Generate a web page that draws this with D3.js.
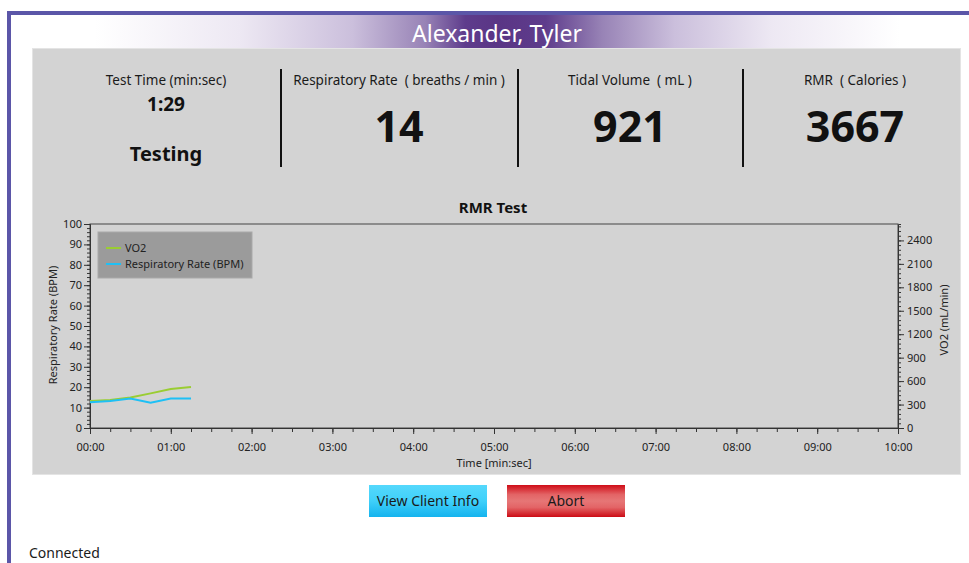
<!DOCTYPE html>
<html><head><meta charset="utf-8">
<script src="https://cdn.jsdelivr.net/npm/d3@7"></script>
<style>
html,body{margin:0;padding:0;background:#fff;overflow:hidden;}
svg{display:block;font-family:"Noto Sans","Open Sans",sans-serif;}
</style></head>
<body>
<svg id="chart" width="969" height="563"></svg>
<script>
// ---- data ----
const clientName = "Alexander, Tyler";
const statLabels = ["Test Time (min:sec)", "Respiratory Rate  ( breaths / min )", "Tidal Volume  ( mL )", "RMR  ( Calories )"];
const statValues = ["1:29", "14", "921", "3667"];
const statusText = "Testing";
const chartTitle = "RMR Test";
const timeSec = [0, 15, 30, 45, 60, 75];
const rrValues = [12.6, 13.2, 14.5, 12.4, 14.5, 14.5];
const vo2Values = [344, 357, 391, 443, 498, 524];
const timeTickSec = [0, 60, 120, 180, 240, 300, 360, 420, 480, 540, 600];
const leftTicks = [0, 10, 20, 30, 40, 50, 60, 70, 80, 90, 100];
const rightTicks = [0, 300, 600, 900, 1200, 1500, 1800, 2100, 2400];
const seriesNames = ["VO2", "Respiratory Rate (BPM)"];
const buttonLabels = ["View Client Info", "Abort"];
const connectionText = "Connected";

const svg = d3.select("#chart");
const defs = svg.append("defs");

// frame border
svg.append("rect").attr("x", 0).attr("y", 0).attr("width", 969).attr("height", 563).attr("fill", "#fff");
svg.append("rect").attr("x", 7).attr("y", 11).attr("width", 970).attr("height", 4).attr("fill", "#5b56a8");
svg.append("rect").attr("x", 7).attr("y", 11).attr("width", 4).attr("height", 560).attr("fill", "#5b56a8");

// title band gradient
const tg = defs.append("linearGradient").attr("id", "titleGrad").attr("x1", "0").attr("x2", "1").attr("y1", "0").attr("y2", "0");
[[0, "#ffffff"], [0.18, "#ede8f3"], [0.32, "#cbbfdc"], [0.41, "#9883b6"], [0.46, "#5e3c8c"], [0.5, "#5a3585"], [0.56, "#5e3c8c"], [0.63, "#9883b6"], [0.72, "#cbbfdc"], [0.84, "#ede8f3"], [1, "#ffffff"]]
  .forEach(([o, c]) => tg.append("stop").attr("offset", o).attr("stop-color", c));
svg.append("rect").attr("x", 95).attr("y", 15).attr("width", 805).attr("height", 34).attr("fill", "url(#titleGrad)");
svg.append("text").attr("x", 497).attr("y", 42).attr("text-anchor", "middle").attr("fill", "#fff")
  .attr("font-size", 23).text(clientName);

// gray panel
svg.append("rect").attr("x", 32.5).attr("y", 48.5).attr("width", 928).attr("height", 426).attr("fill", "#d3d3d3").attr("stroke", "#e4e4e4");

// stats
const statX = [166, 399, 630, 855];
statLabels.forEach((l, i) => {
  svg.append("text").attr("x", statX[i]).attr("y", 85).attr("text-anchor", "middle").attr("font-size", 13.5).attr("fill", "#1a1a1a").attr("xml:space", "preserve").text(l);
});
svg.append("text").attr("x", statX[0]).attr("y", 111).attr("text-anchor", "middle").attr("font-size", 19).attr("font-weight", "bold").attr("fill", "#111").text(statValues[0]);
svg.append("text").attr("x", statX[0]).attr("y", 161).attr("text-anchor", "middle").attr("font-size", 20).attr("font-weight", "bold").attr("fill", "#111").text(statusText);
[1, 2, 3].forEach(i => {
  svg.append("text").attr("x", statX[i]).attr("y", 142).attr("text-anchor", "middle").attr("font-size", 43).attr("font-weight", "bold").attr("fill", "#111").text(statValues[i]);
});
[281, 518, 743].forEach(x => {
  svg.append("line").attr("x1", x).attr("x2", x).attr("y1", 69).attr("y2", 167).attr("stroke", "#111").attr("stroke-width", 2);
});

// chart
const m = {left: 90, right: 898, top: 224, bottom: 428};
const x = d3.scaleLinear().domain([0, 600]).range([m.left, m.right]);
const yL = d3.scaleLinear().domain([0, 100]).range([m.bottom, m.top]);
const yR = d3.scaleLinear().domain([0, 2610]).range([m.bottom, m.top]);

svg.append("text").attr("x", 493).attr("y", 213).attr("text-anchor", "middle").attr("font-size", 15).attr("font-weight", "bold").attr("fill", "#111").text(chartTitle);

svg.append("rect").attr("x", m.left).attr("y", m.top).attr("width", m.right - m.left).attr("height", m.bottom - m.top)
  .attr("fill", "none").attr("stroke", "#444").attr("stroke-width", 1);

const fmt = s => d3.format("02d")(Math.floor(s / 60)) + ":" + d3.format("02d")(s % 60);
const tickColor = "#333";

// x axis
const gx = svg.append("g").attr("transform", `translate(0,${m.bottom})`)
  .call(d3.axisBottom(x).tickValues(d3.range(0, 601, 15)).tickSize(4).tickFormat(""));
gx.call(g2 => g2.select(".domain").attr("stroke", tickColor));
gx.selectAll("line").attr("stroke", tickColor);
const gx2 = svg.append("g").attr("transform", `translate(0,${m.bottom})`)
  .call(d3.axisBottom(x).tickValues(timeTickSec).tickSize(6).tickFormat(fmt));
gx2.select(".domain").remove();
gx2.selectAll("line").attr("stroke", tickColor);
gx2.selectAll("text").attr("font-size", 11).attr("fill", "#222").attr("font-family", "Noto Sans, sans-serif").attr("dy", "1.3em");

// left axis
const gl = svg.append("g").attr("transform", `translate(${m.left},0)`)
  .call(d3.axisLeft(yL).tickValues(d3.range(0, 101, 2)).tickSize(3).tickFormat(""));
gl.select(".domain").attr("stroke", tickColor);
gl.selectAll("line").attr("stroke", tickColor);
const gl2 = svg.append("g").attr("transform", `translate(${m.left},0)`)
  .call(d3.axisLeft(yL).tickValues(leftTicks).tickSize(6).tickPadding(2));
gl2.select(".domain").remove();
gl2.selectAll("line").attr("stroke", tickColor);
gl2.selectAll("text").attr("font-size", 11).attr("fill", "#222").attr("font-family", "Noto Sans, sans-serif");

// right axis
const gr = svg.append("g").attr("transform", `translate(${m.right},0)`)
  .call(d3.axisRight(yR).tickValues(d3.range(0, 2581, 60)).tickSize(3).tickFormat(""));
gr.select(".domain").attr("stroke", tickColor);
gr.selectAll("line").attr("stroke", tickColor);
const gr2 = svg.append("g").attr("transform", `translate(${m.right},0)`)
  .call(d3.axisRight(yR).tickValues(rightTicks).tickSize(6).tickPadding(3).tickFormat(d3.format("d")));
gr2.select(".domain").remove();
gr2.selectAll("line").attr("stroke", tickColor);
gr2.selectAll("text").attr("font-size", 11).attr("fill", "#222").attr("font-family", "Noto Sans, sans-serif");

// axis titles
svg.append("text").attr("transform", "translate(57,325) rotate(-90)").attr("text-anchor", "middle").attr("font-size", 11).attr("fill", "#222").text("Respiratory Rate (BPM)");
svg.append("text").attr("transform", "translate(948,320) rotate(-90)").attr("text-anchor", "middle").attr("font-size", 11).attr("fill", "#222").text("VO2 (mL/min)");
svg.append("text").attr("x", 494).attr("y", 467).attr("text-anchor", "middle").attr("font-size", 11).attr("fill", "#222").text("Time [min:sec]");

// lines
const colors = ["#9acd32", "#1ec0f5"];
svg.append("path").datum(timeSec.map((t, i) => [t, vo2Values[i]]))
  .attr("d", d3.line().x(d => x(d[0])).y(d => yR(d[1])))
  .attr("fill", "none").attr("stroke", colors[0]).attr("stroke-width", 2);
svg.append("path").datum(timeSec.map((t, i) => [t, rrValues[i]]))
  .attr("d", d3.line().x(d => x(d[0])).y(d => yL(d[1])))
  .attr("fill", "none").attr("stroke", colors[1]).attr("stroke-width", 2);

// legend
svg.append("rect").attr("x", 98).attr("y", 232).attr("width", 154).attr("height", 46).attr("fill", "#9b9b9b").attr("stroke", "#a9a9a9");
seriesNames.forEach((n, i) => {
  const yy = 248 + i * 16;
  svg.append("line").attr("x1", 106).attr("x2", 121).attr("y1", yy).attr("y2", yy).attr("stroke", colors[i]).attr("stroke-width", 2);
  svg.append("text").attr("x", 125).attr("y", yy + 4).attr("font-size", 11).attr("fill", "#222").text(n);
});

// buttons
const bg1 = defs.append("linearGradient").attr("id", "btnBlue").attr("x1", 0).attr("x2", 0).attr("y1", 0).attr("y2", 1);
[[0, "#55d8fc"], [0.5, "#3fd0fa"], [1, "#14b3ee"]].forEach(([o, c]) => bg1.append("stop").attr("offset", o).attr("stop-color", c));
const bg2 = defs.append("linearGradient").attr("id", "btnRed").attr("x1", 0).attr("x2", 0).attr("y1", 0).attr("y2", 1);
[[0, "#cf0d17"], [0.3, "#e36466"], [0.5, "#e67676"], [0.7, "#e36466"], [1, "#cc0b15"]].forEach(([o, c]) => bg2.append("stop").attr("offset", o).attr("stop-color", c));
const btnX = [369, 507];
const btnFill = ["url(#btnBlue)", "url(#btnRed)"];
buttonLabels.forEach((b, i) => {
  svg.append("rect").attr("x", btnX[i]).attr("y", 485).attr("width", 118).attr("height", 32).attr("fill", btnFill[i]);
  svg.append("text").attr("x", btnX[i] + 59).attr("y", 506).attr("text-anchor", "middle").attr("font-size", 14).attr("fill", "#1a1a1a").text(b);
});

svg.append("text").attr("x", 29).attr("y", 558).attr("font-size", 14).attr("fill", "#1a1a1a").text(connectionText);
</script>
</body></html>
